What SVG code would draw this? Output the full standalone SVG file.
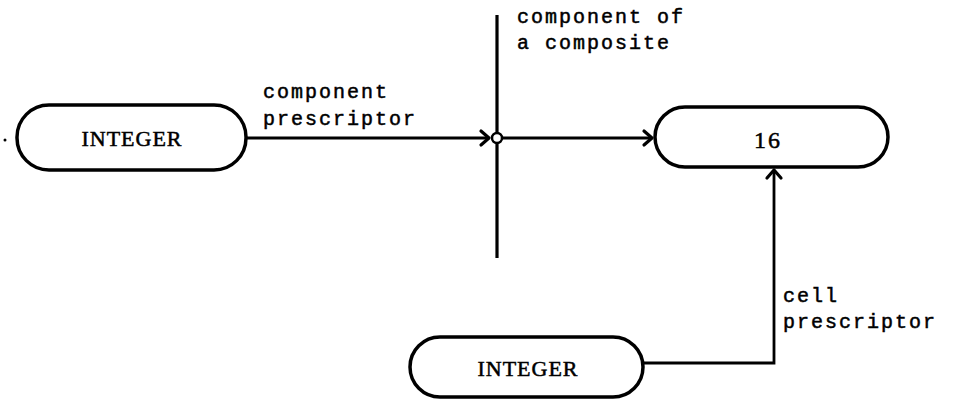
<svg xmlns="http://www.w3.org/2000/svg" width="960" height="400" viewBox="0 0 960 400">
<style>
.node{fill:none;stroke:#000;stroke-width:3.5}
.nt{font-family:"Liberation Serif",serif;font-size:22px;letter-spacing:1px;text-anchor:middle;fill:#000;stroke:#000;stroke-width:0.5}
.lbl{font-family:"Liberation Mono",monospace;font-size:20px;letter-spacing:2px;fill:#000;stroke:#000;stroke-width:0.5}
.con{fill:none;stroke:#000;stroke-width:2.8}
.head{fill:none;stroke:#000;stroke-width:3.2;stroke-linecap:round;stroke-linejoin:round}
</style>
<rect width="960" height="400" fill="#fff"/>
<g id="connectors">
<line class="con" x1="246" y1="138" x2="488" y2="138"/>
<path class="head" d="M481,131 L489,138 L481,145"/>
<line class="con" x1="497" y1="15" x2="497" y2="258" style="stroke-width:3.2"/>
<circle cx="497" cy="138" r="5" fill="#fff" stroke="#000" stroke-width="2.5"/>
<line class="con" x1="502" y1="138" x2="651" y2="138"/>
<path class="head" d="M644,131 L652,138 L644,145"/>
<polyline class="con" points="641,363 774,363 774,170"/>
<path class="head" d="M767,178 L774,170 L781,178"/>
</g>
<g id="dot"><circle cx="5" cy="140" r="1.5" fill="#000"/></g>
<g id="node-integer-1">
<rect class="node" x="17" y="105" width="229" height="65" rx="32"/>
<text class="nt" x="132" y="146">INTEGER</text>
</g>
<g id="node-16">
<rect class="node" x="655" y="107" width="233" height="60" rx="30"/>
<text class="nt" x="768" y="148" style="font-size:24px;letter-spacing:2px">16</text>
</g>
<g id="node-integer-2">
<rect class="node" x="410" y="337" width="233" height="60" rx="30"/>
<text class="nt" x="528" y="376">INTEGER</text>
</g>
<g id="labels">
<text class="lbl" x="263" y="98">component</text>
<text class="lbl" x="263" y="125">prescriptor</text>
<text class="lbl" x="517" y="23">component of</text>
<text class="lbl" x="517" y="49">a composite</text>
<text class="lbl" x="783" y="302">cell</text>
<text class="lbl" x="783" y="328">prescriptor</text>
</g>
</svg>
